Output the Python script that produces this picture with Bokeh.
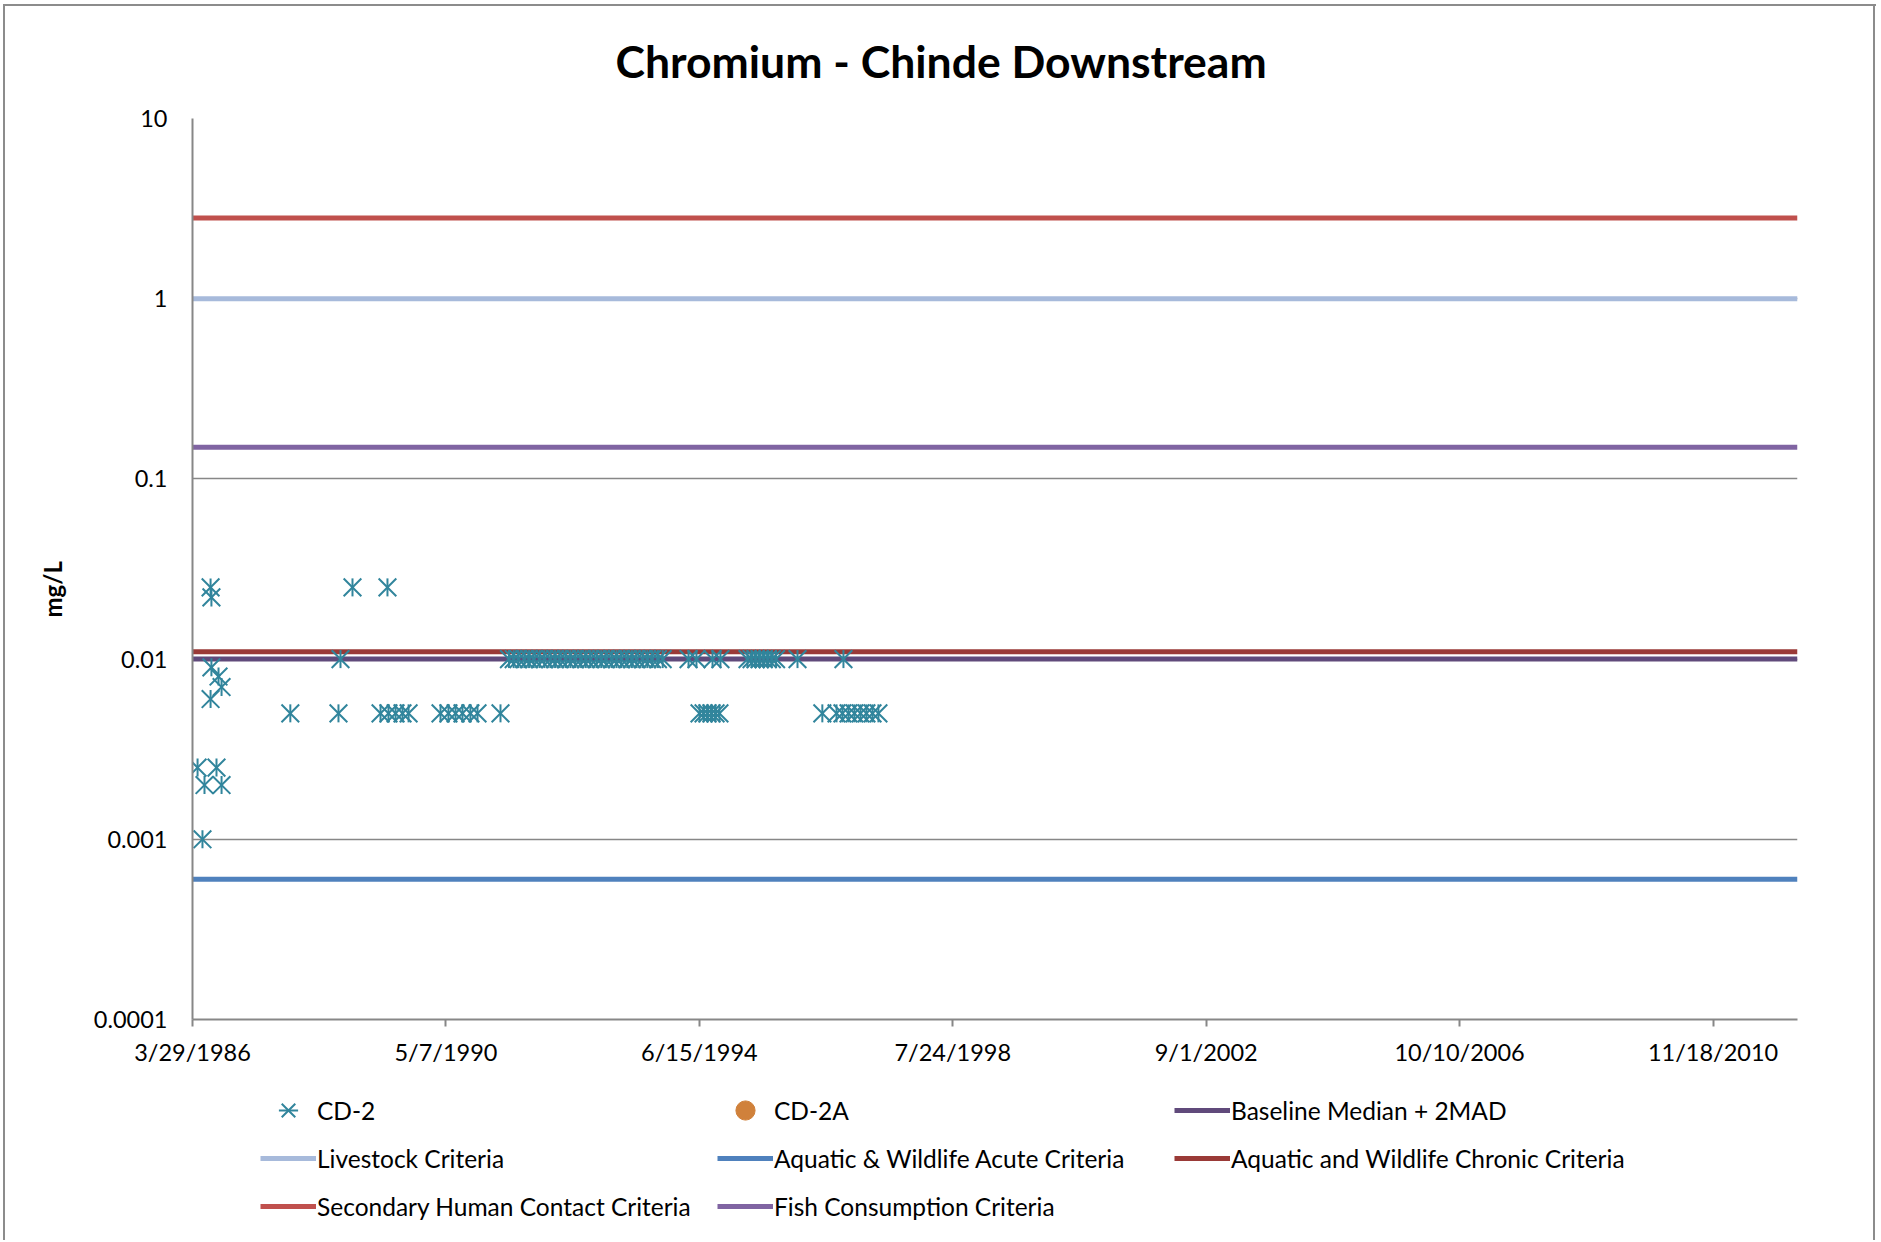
import math
import pandas as pd
from bokeh.plotting import figure
from bokeh.layouts import column
from bokeh.models import (Range1d, FixedTicker, CustomJSTickFormatter, Legend,
                          LegendItem, ColumnDataSource, Title)
from bokeh.embed import file_html
from bokeh.resources import INLINE

# ---------------- data ----------------
title_text = "Chromium - Chinde Downstream"
y_label = "mg/L"
x_tick_labels = ["3/29/1986", "5/7/1990", "6/15/1994", "7/24/1998",
                 "9/1/2002", "10/10/2006", "11/18/2010"]
y_ticks = [0.0001, 0.001, 0.01, 0.1, 1, 10]
x_start = "1986-03-29"
x_end = "2012-04-01"

cd2_dates = [
    "1986-04-28", "1986-05-27", "1986-06-08", "1986-07-14", "1986-07-14",
    "1986-07-19", "1986-07-19", "1986-08-18", "1986-08-30", "1986-09-17",
    "1986-09-17",
    "1987-10-29", "1988-08-09", "1988-08-21", "1988-10-31",
    "1989-04-15", "1989-05-26", "1989-06-01", "1989-07-13", "1989-08-23",
    "1989-09-28",
    "1990-04-05", "1990-05-22", "1990-07-03", "1990-08-13", "1990-09-29",
    "1990-11-10", "1991-03-26",
    "1991-05-15", "1991-06-12", "1991-07-10", "1991-08-14", "1991-09-11",
    "1991-10-09", "1991-11-13", "1991-12-11", "1992-01-15", "1992-02-12",
    "1992-03-11", "1992-04-15", "1992-05-13", "1992-06-10", "1992-07-15",
    "1992-08-12", "1992-09-09", "1992-10-14", "1992-11-11", "1992-12-09",
    "1993-01-13", "1993-02-10", "1993-03-10", "1993-04-14", "1993-05-12",
    "1993-06-09", "1993-07-14", "1993-08-11", "1993-09-08", "1993-10-13",
    "1993-11-10",
    "1994-04-12", "1994-05-29", "1994-09-01", "1994-10-18",
    "1994-06-16", "1994-07-10", "1994-08-02", "1994-08-26", "1994-09-19",
    "1994-10-12",
    "1995-03-27", "1995-04-20", "1995-05-14", "1995-06-07", "1995-07-01",
    "1995-07-25", "1995-08-18", "1995-09-12", "1996-01-17", "1996-10-15",
    "1996-06-12", "1996-09-04", "1996-10-09", "1996-11-14", "1996-12-19",
    "1997-01-24", "1997-02-28", "1997-04-05", "1997-05-10",
]
cd2_values = [
    0.0025, 0.001, 0.002, 0.025, 0.006,
    0.022, 0.009, 0.0025, 0.008, 0.007,
    0.002,
    0.005, 0.005, 0.01, 0.025,
    0.005, 0.025, 0.005, 0.005, 0.005,
    0.005,
    0.005, 0.005, 0.005, 0.005, 0.005,
    0.005, 0.005,
    0.01, 0.01, 0.01, 0.01, 0.01,
    0.01, 0.01, 0.01, 0.01, 0.01,
    0.01, 0.01, 0.01, 0.01, 0.01,
    0.01, 0.01, 0.01, 0.01, 0.01,
    0.01, 0.01, 0.01, 0.01, 0.01,
    0.01, 0.01, 0.01, 0.01, 0.01,
    0.01,
    0.01, 0.01, 0.01, 0.01,
    0.005, 0.005, 0.005, 0.005, 0.005,
    0.005,
    0.01, 0.01, 0.01, 0.01, 0.01,
    0.01, 0.01, 0.01, 0.01, 0.01,
    0.005, 0.005, 0.005, 0.005, 0.005,
    0.005, 0.005, 0.005, 0.005,
]
cd2a_dates = []
cd2a_values = []

criteria_names = ["Baseline Median + 2MAD", "Livestock Criteria",
                  "Aquatic & Wildlife Acute Criteria",
                  "Aquatic and Wildlife Chronic Criteria",
                  "Secondary Human Contact Criteria",
                  "Fish Consumption Criteria"]
criteria_values = [0.01, 1.0, 0.0006, 0.011, 2.8, 0.15]
criteria_colors = ["#604A7B", "#A7BADB", "#4F81BD", "#9A3A37", "#C0504D", "#8064A2"]

# ---------------- styling ----------------
FONT = "Lato"
TEAL = "#31859C"
ORANGE = "#D0813B"
GRID = "#878787"
BORDER = "#8c8c8c"

W = 1880
H_MAIN, H_LEG = 1086, 154
FL, FT, FR, FB = 192, 118, 1797, 1019   # frame edges in page pixels

p = figure(width=W, height=H_MAIN, output_backend="svg", toolbar_location=None,
           x_axis_type="datetime", y_axis_type="log",
           x_range=Range1d(pd.Timestamp(x_start), pd.Timestamp(x_end)),
           y_range=Range1d(y_ticks[0], y_ticks[-1]),
           min_border_left=FL, min_border_right=W - FR,
           min_border_top=FT, min_border_bottom=H_MAIN - FB)
p.outline_line_color = None
p.background_fill_color = "white"
p.border_fill_color = None

p.title.text = title_text
p.title.text_font = FONT
p.title.text_font_size = "44.5px"
p.title.text_font_style = "bold"
p.title.text_color = "black"
p.title.align = "left"
p.title.offset = 423
p.title.standoff = 63

# axes
x_tick_ms = [pd.to_datetime(s, format="%m/%d/%Y").value / 1e6 for s in x_tick_labels]
xa = p.xaxis[0]
xa.ticker = FixedTicker(ticks=x_tick_ms)
xa.formatter = CustomJSTickFormatter(code="""
const d = new Date(tick);
return (d.getUTCMonth() + 1) + "/" + d.getUTCDate() + "/" + d.getUTCFullYear();
""")
ya = p.yaxis[0]
ya.ticker = FixedTicker(ticks=y_ticks)
ya.formatter = CustomJSTickFormatter(code="return tick.toString();")

for ax in (xa, ya):
    ax.axis_line_color = GRID
    ax.axis_line_width = 2
    ax.major_tick_line_color = GRID
    ax.major_tick_line_width = 2
    ax.minor_tick_line_color = None
    ax.major_label_text_font = FONT
    ax.major_label_text_font_size = "23.5px"
    ax.major_label_text_color = "black"
xa.major_tick_out = 7
xa.major_tick_in = 0
xa.major_label_standoff = 11
ya.major_tick_out = 0
ya.major_tick_in = 0
ya.major_label_standoff = 25

# y-axis title (placed a little below the frame centre, as in the original)
ytitle = Title(text=y_label, align="left", offset=402, standoff=48,
               text_font=FONT, text_font_size="24px", text_font_style="bold",
               text_color="black")
p.add_layout(ytitle, "left")

p.xgrid.visible = False
p.ygrid.grid_line_color = GRID
p.ygrid.grid_line_width = 1.5
p.ygrid.minor_grid_line_color = None

# criteria lines
line_renderers = []
for name, val, col in zip(criteria_names, criteria_values, criteria_colors):
    src = ColumnDataSource(dict(x=[pd.Timestamp(x_start), pd.Timestamp(x_end)], y=[val, val]))
    r = p.line("x", "y", source=src, line_color=col, line_width=5)
    line_renderers.append(r)

# data points (star = X + vertical bar, as in the spreadsheet marker)
cd2_src = ColumnDataSource(dict(x=pd.to_datetime(cd2_dates), y=cd2_values))
p.scatter("x", "y", source=cd2_src, marker="x", size=25, line_color=TEAL, line_width=2)
p.scatter("x", "y", source=cd2_src, marker="dash", angle=math.pi / 2, size=18,
          line_color=TEAL, line_width=2)
cd2a_src = ColumnDataSource(dict(x=pd.to_datetime(cd2a_dates), y=cd2a_values))
p.scatter("x", "y", source=cd2a_src, marker="circle", size=16,
          fill_color=ORANGE, line_color=ORANGE)

# ---------------- legend strip (proxy glyphs carry no data) ----------------
lg = figure(width=W, height=H_LEG, output_backend="svg", toolbar_location=None,
            x_range=Range1d(0, 1), y_range=Range1d(0, 1),
            x_axis_location=None, y_axis_location=None, min_border=0)
lg.outline_line_color = None
lg.background_fill_color = None
lg.border_fill_color = None
lg.grid.visible = False
nan_src = ColumnDataSource(dict(x=[float("nan")], y=[float("nan")]))
lx = lg.scatter("x", "y", source=nan_src, marker="x", size=25, line_color=TEAL, line_width=2)
lv = lg.scatter("x", "y", source=nan_src, marker="dash", angle=math.pi / 2, size=18,
                line_color=TEAL, line_width=2)
la = lg.scatter("x", "y", source=nan_src, marker="circle", size=16,
                fill_color=ORANGE, line_color=ORANGE)
items = [LegendItem(label="CD-2", renderers=[lx, lv]),
         LegendItem(label="CD-2A", renderers=[la])]
for name, col in zip(criteria_names, criteria_colors):
    rl = lg.line("x", "y", source=nan_src, line_color=col, line_width=5)
    items.append(LegendItem(label=name, renderers=[rl]))

legend = Legend(items=items, location=(68, 10), orientation="horizontal", ncols=3,
                glyph_width=56, glyph_height=48, label_height=48, label_width=400,
                label_standoff=1, spacing=0, padding=0, margin=0,
                border_line_color=None, background_fill_alpha=0,
                label_text_font=FONT, label_text_font_size="24.5px",
                label_text_color="black")
lg.add_layout(legend)

layout = column(p, lg, spacing=0)
g = f"linear-gradient({BORDER},{BORDER})"
layout.styles = {"background": f"{g} 3px 4px/2px 1400px no-repeat, "
                               f"{g} 3px 4px/1873px 2px no-repeat, "
                               f"{g} 1873px 4px/2px 1400px no-repeat, white"}

open("out.html", "w").write(file_html(layout, INLINE))
